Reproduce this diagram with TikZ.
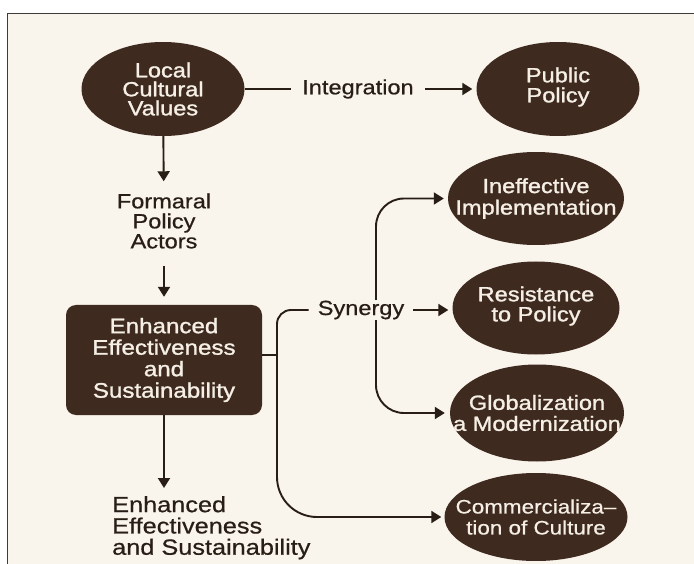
\documentclass[tikz,border=0pt]{standalone}
\usepackage{fontspec}
\setmainfont{Liberation Sans}[FakeStretch=1.15, FakeBold=0.6]
\newfontfamily\heavy{Liberation Sans}[FakeStretch=1.15, FakeBold=1.3]
\usetikzlibrary{shapes.geometric,arrows.meta}

\definecolor{paper}{RGB}{249,244,236}
\definecolor{bark}{RGB}{62,42,30}
\definecolor{cream}{RGB}{246,239,229}
\definecolor{ink}{RGB}{40,30,22}
\definecolor{framegray}{RGB}{60,60,60}

\pgfdeclarelayer{back}
\pgfdeclarelayer{links}
\pgfsetlayers{back,links,main}

\begin{document}
\begin{tikzpicture}[x=1pt,y=-1pt,
  oval/.style={ellipse, fill=bark, inner sep=0pt},
  ovaltext/.style={text=cream, align=center, inner sep=0pt,
    font=\heavy\fontsize{20.5}{20}\selectfont},
  panel/.style={rounded corners=10pt, fill=bark, text=cream, inner sep=0pt,
    minimum width=196pt, minimum height=110pt, align=center,
    font=\heavy\fontsize{21}{21.5}\selectfont},
  plain/.style={text=ink, align=center, inner sep=0pt,
    font=\fontsize{20.5}{20}\selectfont},
  gaplabel/.style={plain, fill=paper, inner xsep=11pt, inner ysep=1pt},
  conn/.style={draw=ink, line width=1.9pt},
  tip/.style={-{Triangle[length=10pt,width=12pt]}},
]
\useasboundingbox (0,0) rectangle (694,564);

% page and frame
\begin{pgfonlayer}{back}
  \fill[white] (0,0) rectangle (694,564);
  \fill[paper] (7.5,13.5) rectangle (694,564);
  \draw[framegray, line width=1.3pt] (7.5,564) -- (7.5,13.5) -- (694,13.5);
\end{pgfonlayer}

% ovals
\node[oval, minimum width=163pt, minimum height=94pt] (lcv) at (163,89) {};
\node[ovaltext, font=\heavy\fontsize{20.5}{19}\selectfont] at (lcv) {Local\\Cultural\\Values};

\node[oval, minimum width=163pt, minimum height=94pt] (pp) at (558,89) {};
\node[ovaltext] at ([yshift=2pt]pp) {Public\\Policy};

\node[oval, minimum width=176pt, minimum height=93pt] (ine) at (536,198.5) {};
\node[ovaltext, font=\heavy\fontsize{20.5}{21.5}\selectfont] at (ine) {Ineffective\\Implementation};

\node[oval, minimum width=167pt, minimum height=93pt] (res) at (536,308) {};
\node[ovaltext] at ([yshift=2pt]res) {Resistance\\to Policy};

\node[oval, minimum width=174pt, minimum height=97pt] (glob) at (537,413) {};
\node[ovaltext, font=\heavy\fontsize{20.5}{21}\selectfont] at (glob) {Globalization\\a Modernization};

\node[oval, minimum width=183pt, minimum height=88pt] (com) at (536,517) {};
\node[ovaltext, font=\fontsize{19.5}{21}\selectfont] at (com) {Commercializa–\\tion of Culture};

% central panel
\node[panel] (core) at (164,360) {Enhanced\\Effectiveness\\and\\Sustainability};

% plain text nodes
\node[plain] (actors) at (164,221) {Formaral\\Policy\\Actors};
\node[plain, align=left, anchor=north west, font=\fontsize{22}{21.3}\selectfont]
  (outcome) at (112,496) {Enhanced\\Effectiveness\\and Sustainability};
\node[gaplabel] (integ) at (358,89) {Integration};
\node[gaplabel, inner xsep=9pt] (syn) at (361,310) {Synergy};

\coordinate (hub) at (277,355);

% connectors
\begin{pgfonlayer}{links}
  \draw[conn] (lcv) -- (integ);
  \draw[conn, tip, shorten >=4pt] (integ) -- (pp);

  \draw[conn, tip, shorten >=12pt] (lcv) -- (actors);
  \draw[conn, tip, shorten <=17pt, shorten >=8pt] (actors) -- (core);
  \draw[conn, tip, shorten >=8pt] (core) -- (core |- outcome.north);

  \draw[conn] (core.east |- hub) -- (hub);
  \draw[conn, rounded corners=14pt] (hub) |- (syn.west);
  \draw[conn, tip, shorten >=4pt] (syn.east) -- (syn.east -| res.west);
  \draw[conn, {Triangle[length=10pt,width=12pt]}-{Triangle[length=10pt,width=12pt]},
        rounded corners=28pt, shorten <=4pt, shorten >=5pt]
    (ine.west) -| (376,300) |- (glob.west);
  \draw[conn, tip, rounded corners=40pt, shorten >=3pt] (hub) |- (com.west);
\end{pgfonlayer}
\end{tikzpicture}
\end{document}
